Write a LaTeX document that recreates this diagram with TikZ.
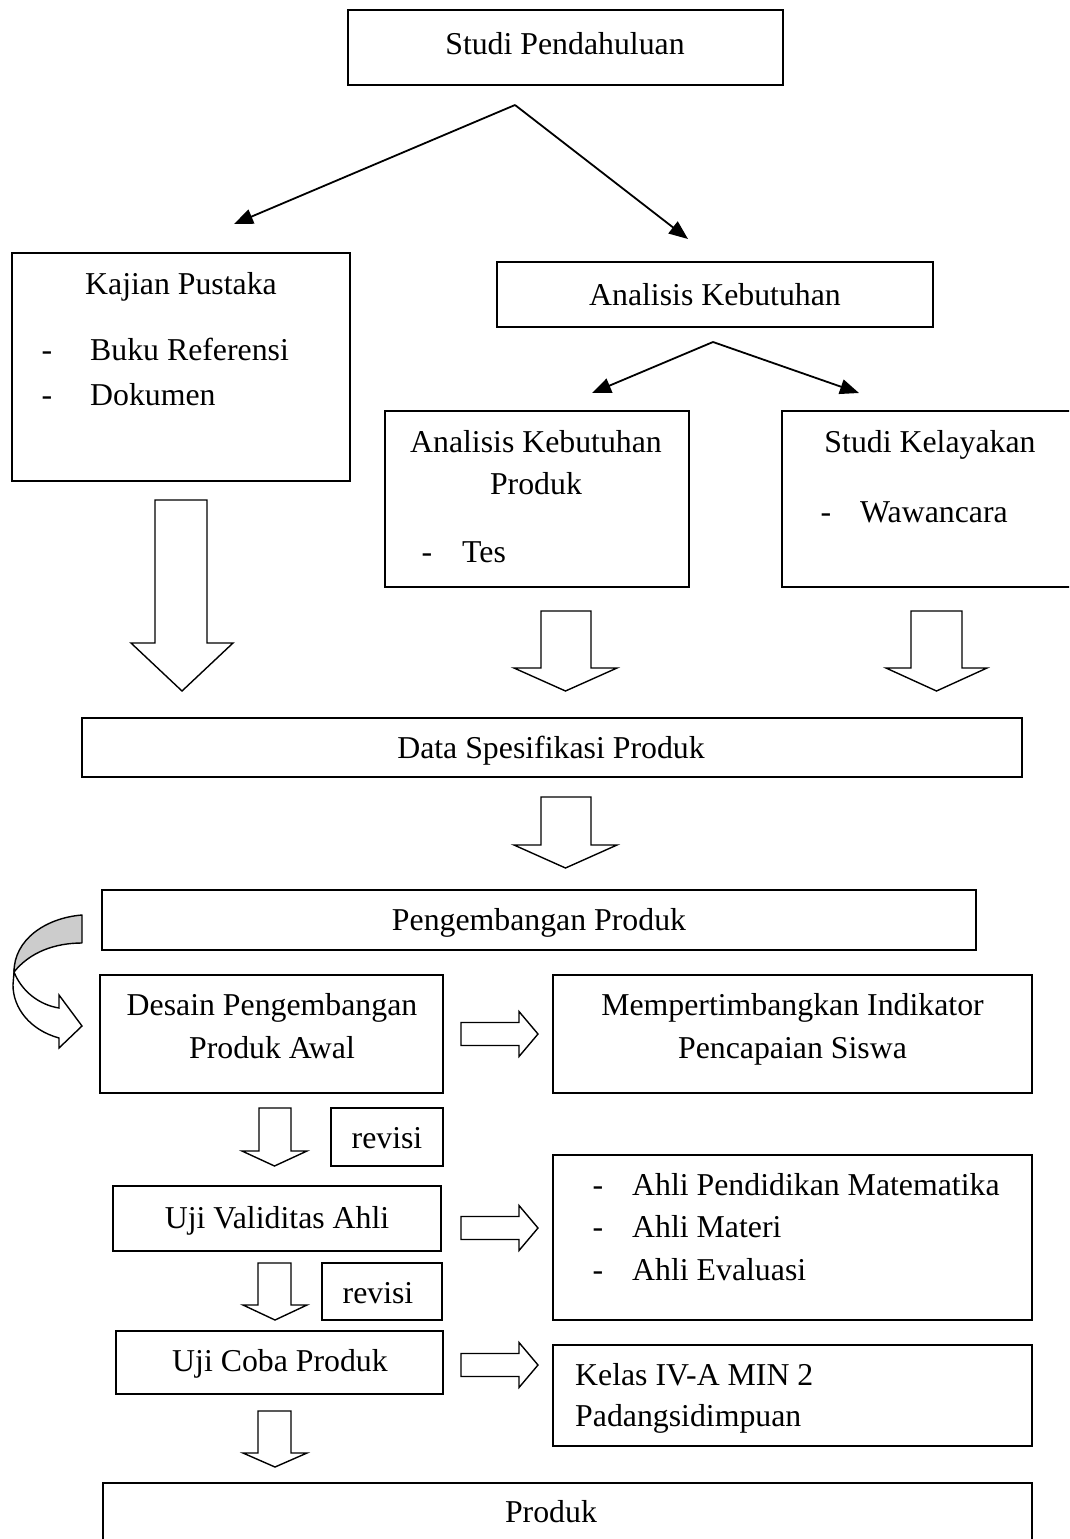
\documentclass[tikz,border=0pt]{standalone}
\usepackage{fontspec}
\setmainfont{Liberation Serif}
\usetikzlibrary{arrows.meta}
\newcommand\fs{\fontsize{31.8}{40}\selectfont}
\newcommand{\dnarrow}[7]{%
  \draw[blk] (#1,#3) -- (#2,#3) -- (#2,#4) -- (#6,#4) -- ({(#5+#6)/2},#7) -- (#5,#4) -- (#1,#4) -- cycle;}
\newcommand{\rtarrow}[6]{%
  \draw[blk] (#1,{#4-#5}) -- (#2,{#4-#5}) -- (#2,{#4-#6}) -- (#3,#4) -- (#2,{#4+#6}) -- (#2,{#4+#5}) -- (#1,{#4+#5}) -- cycle;}
\begin{document}
\begin{tikzpicture}[x=1pt,y=-1pt,
  box/.style={draw, line width=1.8pt, inner sep=0pt, outer sep=0pt},
  txt/.style={inner sep=0pt, anchor=base, font=\fs},
  ltxt/.style={inner sep=0pt, anchor=base west, font=\fs},
  blk/.style={draw, line width=1.4pt, fill=white, line join=miter},
  conn/.style={line width=1.8pt, -{Triangle[length=19pt,width=15pt]}}]
\useasboundingbox (0,0) rectangle (1069,1539);
\clip (0,0) rectangle (1069,1539);
\fill[white] (0,0) rectangle (1069,1539);

% boxes
\node[box, minimum width=435pt, minimum height=75pt] (sp) at (565.5,47.5) {};
\node[box, minimum width=338pt, minimum height=228pt] (kp) at (181,367) {};
\node[box, minimum width=436pt, minimum height=65pt] (ak) at (715,294.5) {};
\node[box, minimum width=304pt, minimum height=176pt] (akp) at (537,499) {};
\node[box, minimum width=293pt, minimum height=176pt] (sk) at (928.5,499) {};
\node[box, minimum width=940pt, minimum height=59pt] (ds) at (552,747.5) {};
\node[box, minimum width=874pt, minimum height=60pt] (pp) at (539,920) {};
\node[box, minimum width=343pt, minimum height=118pt] (dp) at (271.5,1034) {};
\node[box, minimum width=479pt, minimum height=118pt] (mi) at (792.5,1034) {};
\node[box, minimum width=112pt, minimum height=58pt] (rv1) at (387,1137) {};
\node[box, minimum width=328pt, minimum height=65pt] (uv) at (277,1218.5) {};
\node[box, minimum width=479pt, minimum height=165pt] (ah) at (792.5,1237.5) {};
\node[box, minimum width=120pt, minimum height=57pt] (rv2) at (382,1291.5) {};
\node[box, minimum width=327pt, minimum height=63pt] (uc) at (279.5,1362.5) {};
\node[box, minimum width=479pt, minimum height=101pt] (kl) at (792.5,1395.5) {};
\node[box, minimum width=929pt, minimum height=77pt] (pr) at (567.5,1521.5) {};

% texts
\node[txt] (tsp) at (565,54) {Studi Pendahuluan};
\node[txt] (tkp) at (181,294) {Kajian Pustaka};
\node[txt] (tkpd1) at (47,360) {-};
\node[ltxt] (tkp1) at (90,360) {Buku Referensi};
\node[txt] (tkpd2) at (47,405) {-};
\node[ltxt] (tkp2) at (90,405) {Dokumen};
\node[txt] (tak) at (715,305) {Analisis Kebutuhan};
\node[txt] (takp1) at (536,452) {Analisis Kebutuhan};
\node[txt] (takp2) at (536,494) {Produk};
\node[txt] (takpd) at (427,562) {-};
\node[ltxt] (takp3) at (462,562) {Tes};
\node[txt] (tsk) at (930,452) {Studi Kelayakan};
\node[txt] (tskd) at (826,522) {-};
\node[ltxt] (tsk1) at (860,522) {Wawancara};
\node[txt] (tds) at (551,758) {Data Spesifikasi Produk};
\node[txt] (tpp) at (539,930) {Pengembangan Produk};
\node[txt] (tdp1) at (272,1015) {Desain Pengembangan};
\node[txt] (tdp2) at (272,1058) {Produk Awal};
\node[txt] (tmi1) at (792.5,1015) {Mempertimbangkan Indikator};
\node[txt] (tmi2) at (792.5,1058) {Pencapaian Siswa};
\node[txt] (trv1) at (387,1148) {revisi};
\node[txt] (tuv) at (277,1228) {Uji Validitas Ahli};
\node[txt] (tahd1) at (598,1195) {-};
\node[ltxt] (tah1) at (632,1195) {Ahli Pendidikan Matematika};
\node[txt] (tahd2) at (598,1237) {-};
\node[ltxt] (tah2) at (632,1237) {Ahli Materi};
\node[txt] (tahd3) at (598,1280) {-};
\node[ltxt] (tah3) at (632,1280) {Ahli Evaluasi};
\node[txt] (trv2) at (378,1303) {revisi};
\node[txt] (tuc) at (280,1371) {Uji Coba Produk};
\node[ltxt] (tkl1) at (575,1385) {Kelas IV-A MIN 2};
\node[ltxt] (tkl2) at (575,1426) {Padangsidimpuan};
\node[txt] (tpr) at (551,1522) {Produk};

% line connectors
\coordinate (ap1) at (515,105);
\coordinate (ap1l) at (234,224);
\coordinate (ap1r) at (688,239);
\coordinate (ap2) at (713,342);
\coordinate (ap2l) at (592,393);
\coordinate (ap2r) at (859,393);
\draw[conn] (ap1) -- (ap1l);
\draw[conn] (ap1) -- (ap1r);
\draw[conn] (ap2) -- (ap2l);
\draw[conn] (ap2) -- (ap2r);

% block arrows down
\dnarrow{155}{207}{500}{643}{131}{233}{691}
\dnarrow{541}{591}{611}{668}{514}{617}{691}
\dnarrow{911}{962}{611}{668}{886}{987}{691}
\dnarrow{541}{591}{797}{845}{514}{617}{868}
\dnarrow{259}{291}{1108}{1151}{242}{307}{1166}
\dnarrow{258}{291}{1263}{1305}{243}{307}{1320}
\dnarrow{258}{291}{1411}{1453}{243}{307}{1467}

% block arrows right
\rtarrow{461}{519}{538}{1034}{11.5}{22.5}
\rtarrow{461}{519}{538}{1228}{11.5}{22.5}
\rtarrow{461}{519}{538}{1365}{11.5}{22.5}

% curved arrow
\draw[line width=1.4pt, fill=black!20, line join=round]
  (82,915) .. controls (45,918) and (14,940) .. (14,972)
  .. controls (30,952) and (55,943) .. (82,943) -- cycle;
\draw[line width=1.4pt, fill=white, line join=miter]
  (14,972) .. controls (22,992) and (40,1005) .. (59,1008)
  -- (59,995) -- (82,1026) -- (59,1048) -- (59,1038)
  .. controls (30,1030) and (13,1008) .. (13,985) -- cycle;
\end{tikzpicture}
\end{document}
